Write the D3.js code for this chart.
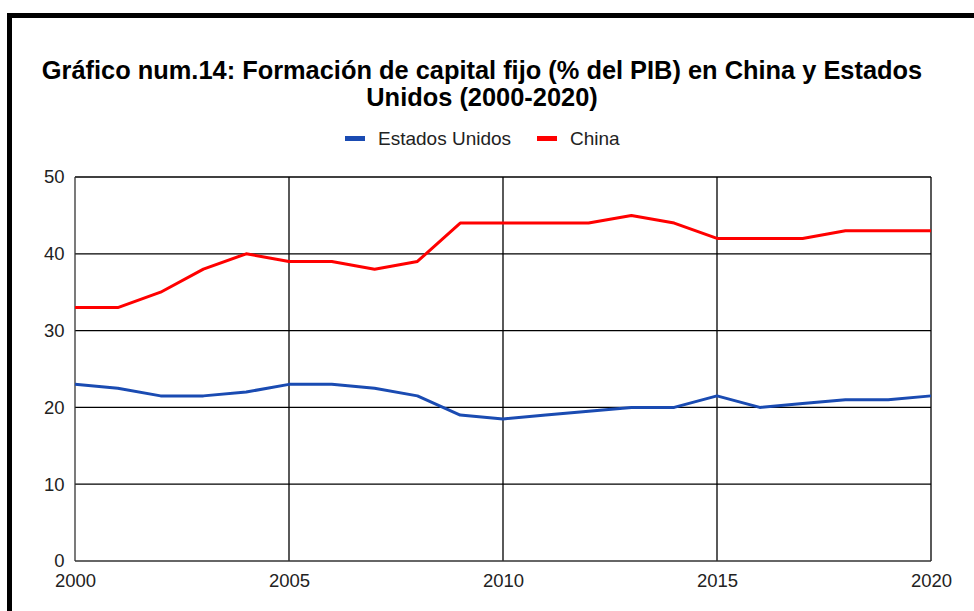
<!DOCTYPE html>
<html>
<head>
<meta charset="utf-8">
<script src="https://cdn.jsdelivr.net/npm/d3@7"></script>
<style>
  html, body { margin: 0; padding: 0; background: #fff; }
  svg { display: block; font-family: "Liberation Sans", Arial, sans-serif; }
</style>
</head>
<body>
<svg id="chart" width="974" height="611"></svg>
<script>
const years = d3.range(2000, 2021);
const usValues = [23, 22.5, 21.5, 21.5, 22, 23, 23, 22.5, 21.5, 19, 18.5, 19, 19.5, 20, 20, 21.5, 20, 20.5, 21, 21, 21.5];
const chinaValues = [33, 33, 35, 38, 40, 39, 39, 38, 39, 44, 44, 44, 44, 45, 44, 42, 42, 42, 43, 43, 43];
const seriesNames = ["Estados Unidos", "China"];
const seriesColors = ["#1a4bb2", "#ff0000"];
const yTicks = [0, 10, 20, 30, 40, 50];
const xTicks = [2000, 2005, 2010, 2015, 2020];
const titleLines = ["Gráfico num.14: Formación de capital fijo (% del PIB) en China y Estados", "Unidos (2000-2020)"];

const svg = d3.select("#chart");
const margin = { left: 75, right: 974 - 931, top: 177, bottom: 611 - 561 };
const W = 974, H = 611;

// outer frame
svg.append("rect")
  .attr("x", 9.5).attr("y", 15.5)
  .attr("width", 1200).attr("height", 1000)
  .attr("fill", "none").attr("stroke", "#000").attr("stroke-width", 5);

const x = d3.scaleLinear().domain([2000, 2020]).range([margin.left, W - margin.right]);
const y = d3.scaleLinear().domain([0, 50]).range([H - margin.bottom, margin.top]);

// title
svg.append("g").selectAll("text").data(titleLines).join("text")
  .attr("x", 482).attr("y", (d, i) => 78.5 + i * 27.5)
  .attr("text-anchor", "middle")
  .attr("font-weight", "bold").attr("font-size", 25.4).attr("fill", "#000")
  .text(d => d);

// gridlines
const grid = svg.append("g");
grid.selectAll("line.h").data(yTicks.filter(d => d > 0)).join("line")
  .attr("class", "h")
  .attr("x1", x(2000)).attr("x2", x(2020))
  .attr("y1", d => y(d)).attr("y2", d => y(d))
  .attr("stroke", "#000").attr("stroke-width", 1.3);
grid.selectAll("line.v").data(xTicks.filter(d => d > 2000)).join("line")
  .attr("class", "v")
  .attr("x1", d => x(d)).attr("x2", d => x(d))
  .attr("y1", y(0)).attr("y2", y(50))
  .attr("stroke", "#000").attr("stroke-width", 1.3);

// axes lines
svg.append("line").attr("x1", x(2000)).attr("x2", x(2000)).attr("y1", y(0)).attr("y2", y(50))
  .attr("stroke", "#333").attr("stroke-width", 1.3);
svg.append("line").attr("x1", x(2000)).attr("x2", x(2020)).attr("y1", y(0)).attr("y2", y(0))
  .attr("stroke", "#333").attr("stroke-width", 1.3);

// y tick labels
const yAxis = d3.axisLeft(y).tickValues(yTicks).tickSize(0).tickPadding(10.5);
const gy = svg.append("g").attr("transform", `translate(${x(2000)},0)`).call(yAxis);
gy.select(".domain").remove();
gy.selectAll("text").attr("font-size", 18.5).attr("fill", "#222").attr("font-family", "Liberation Sans, Arial, sans-serif");

// x tick labels
const xAxis = d3.axisBottom(x).tickValues(xTicks).tickFormat(d3.format("d")).tickSize(0).tickPadding(13);
const gx = svg.append("g").attr("transform", `translate(0,${y(0)})`).call(xAxis);
gx.select(".domain").remove();
gx.selectAll("text").attr("font-size", 18.5).attr("fill", "#222").attr("font-family", "Liberation Sans, Arial, sans-serif");

// lines
const line = d3.line().x((d, i) => x(years[i])).y(d => y(d));
[usValues, chinaValues].forEach((vals, k) => {
  svg.append("path").datum(vals)
    .attr("d", line)
    .attr("fill", "none")
    .attr("stroke", seriesColors[k])
    .attr("stroke-width", 3)
    .attr("stroke-linejoin", "round");
});

// legend
const legendX = [345, 537];
const lg = svg.append("g");
seriesNames.forEach((name, k) => {
  lg.append("rect").attr("x", legendX[k]).attr("y", 136).attr("width", 20).attr("height", 5)
    .attr("fill", seriesColors[k]);
  lg.append("text").attr("x", legendX[k] + 33).attr("y", 144.5)
    .attr("font-size", 19).attr("fill", "#222").text(name);
});
</script>
</body>
</html>
